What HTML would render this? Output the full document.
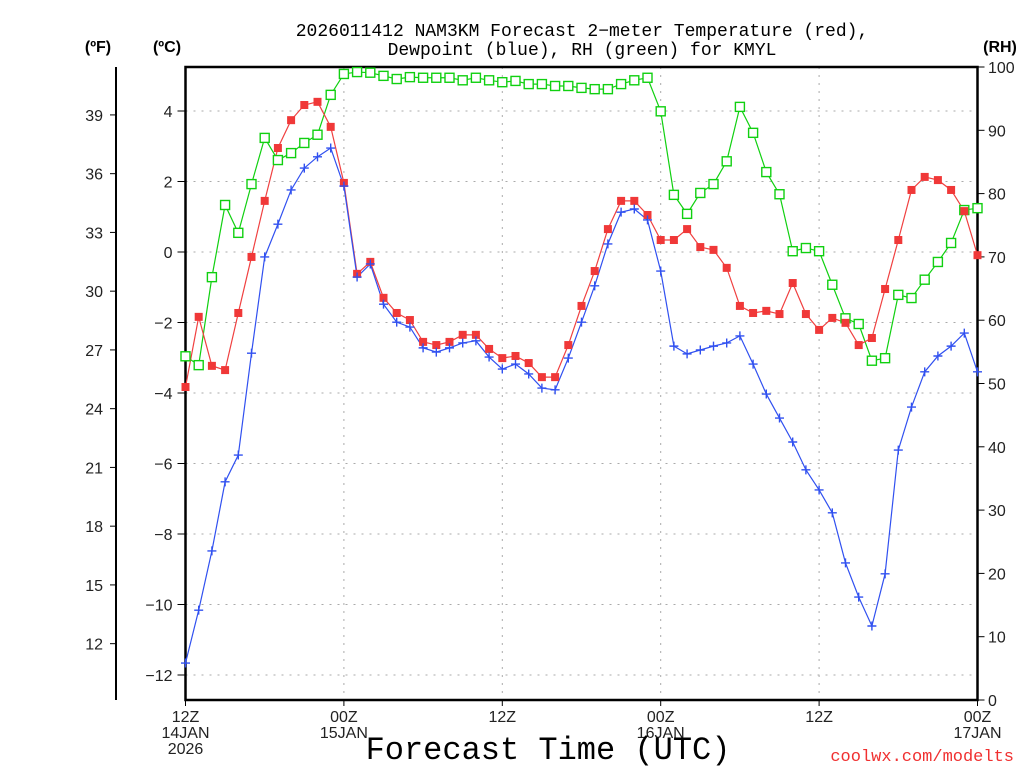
<!DOCTYPE html>
<html><head><meta charset="utf-8"><style>
body{margin:0;background:#fff;}
svg text{font-family:"Liberation Sans","DejaVu Sans",sans-serif;}
svg text.m{font-family:"Liberation Mono","DejaVu Sans Mono",monospace;}
</style></head><body>
<svg id="c" width="1024" height="768" viewBox="0 0 1024 768">
<g id="grid"></g><g id="axes" fill="#222"></g><g id="series"></g>
<g id="labels" font-size="15" fill="#000">
<text class="m" x="582" y="36" text-anchor="middle" font-size="18">2026011412 NAM3KM Forecast 2−meter Temperature (red),</text>
<text class="m" x="582" y="55" text-anchor="middle" font-size="18">Dewpoint (blue), RH (green) for KMYL</text>
<text x="98" y="52" text-anchor="middle" font-weight="bold" font-size="16">(ºF)</text>
<text x="167" y="52" text-anchor="middle" font-weight="bold" font-size="16">(ºC)</text>
<text x="1000" y="52" text-anchor="middle" font-weight="bold" font-size="16">(RH)</text>
<text class="m" x="548" y="759" text-anchor="middle" font-size="32">Forecast Time (UTC)</text>
<text class="m" x="1014" y="761" text-anchor="end" font-size="17" fill="#f03030">coolwx.com/modelts</text>
</g>
</svg>
<script>
const hours=[];for(let i=0;i<=60;i++)hours.push(i);
const tempC=[-3.83,-1.84,-3.23,-3.35,-1.73,-0.14,1.45,2.95,3.74,4.17,4.26,3.55,1.96,-0.62,-0.28,-1.30,-1.73,-1.93,-2.55,-2.64,-2.55,-2.35,-2.35,-2.75,-3.01,-2.95,-3.15,-3.55,-3.55,-2.64,-1.53,-0.54,0.65,1.45,1.45,1.05,0.34,0.34,0.65,0.14,0.06,-0.45,-1.53,-1.73,-1.67,-1.76,-0.88,-1.76,-2.21,-1.87,-2.01,-2.64,-2.44,-1.05,0.34,1.76,2.13,2.04,1.76,1.16,-0.09];
const dewC=[-11.66,-10.16,-8.48,-6.52,-5.76,-2.87,-0.14,0.79,1.76,2.38,2.70,2.95,1.87,-0.71,-0.34,-1.48,-1.99,-2.13,-2.72,-2.84,-2.72,-2.58,-2.52,-2.98,-3.32,-3.18,-3.46,-3.86,-3.91,-3.01,-1.99,-0.96,0.23,1.13,1.22,0.91,-0.54,-2.67,-2.89,-2.78,-2.67,-2.58,-2.38,-3.18,-4.03,-4.71,-5.39,-6.18,-6.75,-7.40,-8.82,-9.79,-10.61,-9.13,-5.62,-4.40,-3.40,-2.95,-2.67,-2.30,-3.40];
const rh=[54.3,52.9,66.8,78.2,73.8,81.5,88.8,85.3,86.4,88.0,89.3,95.6,98.9,99.2,99.1,98.6,98.1,98.4,98.3,98.3,98.3,97.9,98.3,97.9,97.6,97.8,97.3,97.3,97.0,97.0,96.7,96.5,96.5,97.3,97.9,98.3,93.0,79.8,76.8,80.1,81.5,85.1,93.7,89.6,83.4,79.9,70.9,71.4,70.9,65.6,60.3,59.4,53.6,54.0,64.0,63.5,66.4,69.2,72.2,77.4,77.7];
const cTicks=[4,2,0,-2,-4,-6,-8,-10,-12];
const fTicks=[39,36,33,30,27,24,21,18,15,12];
const rhTicks=[0,10,20,30,40,50,60,70,80,90,100];
const xTicks=[0,12,24,36,48,60];
const xLab1=["12Z","00Z","12Z","00Z","12Z","00Z"];
const xLab2=["14JAN","15JAN","","16JAN","","17JAN"];
const xLab3=["2026","","","","",""];

const X0=185.5,X1=977.5,Y0=67,Y1=700;
const xs=h=>X0+(X1-X0)*h/60;
const yc=c=>252-35.25*c;
const yf=f=>yc((f-32)/1.8);
const yr=r=>Y1-(Y1-Y0)*r/100;
const NS="http://www.w3.org/2000/svg";
function mk(p,t,a){const e=document.createElementNS(NS,t);for(const k in a)e.setAttribute(k,a[k]);p.appendChild(e);return e;}
const grid=document.getElementById('grid'),axes=document.getElementById('axes'),ser=document.getElementById('series');
cTicks.forEach(c=>{
 const l=mk(grid,'line',{x1:X0,x2:X1,y1:yc(c),y2:yc(c),stroke:'#aaa','stroke-dasharray':'2,6'});
 
 
 const t=mk(axes,'line',{x1:X0-8,x2:X0,y1:yc(c),y2:yc(c),stroke:'#000'});
 
 
 const tx=mk(axes,'text',{x:X0-13,y:yc(c)+6,'text-anchor':'end','font-size':16});
 tx.textContent=(c<0?'−':'')+Math.abs(c);
 
 
});
xTicks.forEach((h,i)=>{
 if(h>0&&h<60){const l=mk(grid,'line',{x1:xs(h),x2:xs(h),y1:Y0,y2:Y1,stroke:'#aaa','stroke-dasharray':'2,6'});
 
 }
 const t=mk(axes,'line',{x1:xs(h),x2:xs(h),y1:Y1,y2:Y1+6,stroke:'#000'});
 
 
 [xLab1[i],xLab2[i],xLab3[i]].forEach((s,j)=>{if(!s)return;
  const tx=mk(axes,'text',{x:xs(h),y:Y1+22+j*16,'text-anchor':'middle','font-size':16});
  tx.textContent=s;
  
  });
});
let a=mk(axes,'line',{x1:116,x2:116,y1:Y0,y2:Y1,stroke:'#000','stroke-width':2});


fTicks.forEach(f=>{
 const t=mk(axes,'line',{x1:110,x2:116,y1:yf(f),y2:yf(f),stroke:'#000'});
 
 
 const tx=mk(axes,'text',{x:103,y:yf(f)+6,'text-anchor':'end','font-size':16});
 tx.textContent=f;
 
 
});
rhTicks.forEach(r=>{
 const t=mk(axes,'line',{x1:X1,x2:X1+7,y1:yr(r),y2:yr(r),stroke:'#000'});
 
 
 const tx=mk(axes,'text',{x:988,y:yr(r)+6,'text-anchor':'start','font-size':16});
 tx.textContent=r;
 
 
});
const fr=mk(axes,'rect',{x:X0,y:Y0,width:X1-X0,height:Y1-Y0,fill:'none',stroke:'#000','stroke-width':2.5});



function line(vals,fy,col,name){
 const p=mk(ser,'polyline',{points:vals.map((v,i)=>xs(hours[i])+','+fy(v)).join(' '),fill:'none',stroke:col,'stroke-width':1.2});
 
 
}
line(rh,yr,'#10d010','rh');
line(tempC,yc,'#f04040','temperature');
line(dewC,yc,'#3050f0','dewpoint');
rh.forEach((v,i)=>{const m=mk(ser,'rect',{x:xs(hours[i])-4.5,y:yr(v)-4.5,width:9,height:9,fill:'#fff',stroke:'#10d010','stroke-width':1.4});
 
 });
tempC.forEach((v,i)=>{const m=mk(ser,'rect',{x:xs(hours[i])-4,y:yc(v)-4,width:8,height:8,fill:'#f03838'});
 
 });
dewC.forEach((v,i)=>{const x=xs(hours[i]),y=yc(v);
 const m=mk(ser,'path',{d:`M${x-4.5},${y}H${x+4.5}M${x},${y-4.5}V${y+4.5}`,stroke:'#3050f0','stroke-width':1.4});
 
 });
</script>
</body></html>
